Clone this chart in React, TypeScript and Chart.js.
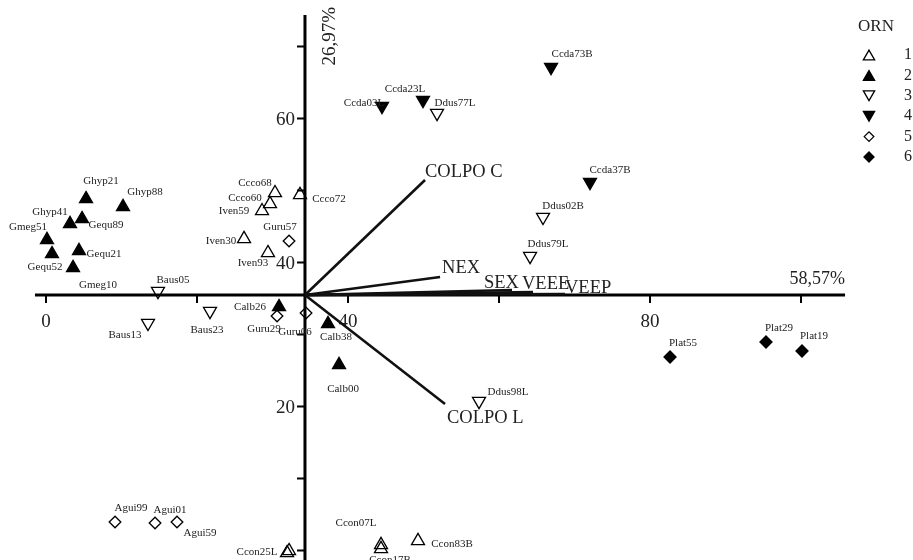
import React, { useEffect, useRef } from 'react';
import { Chart, registerables } from 'chart.js';
import { drawPoint } from 'chart.js/helpers';

Chart.register(...registerables);

// ---- Sample scores by ORN group ----
const ORN1_NAMES = ['Ccco68', 'Ccco72', 'Ccco60', 'Iven59', 'Iven30', 'Iven93', 'Ccon25L', '', 'Ccon07L', 'Ccon17B', 'Ccon83B'];
const ORN1_X = [30.33, 33.64, 29.67, 28.61, 26.23, 29.4, 31.92, 32.19, 44.37, 44.37, 49.27];
const ORN1_Y = [49.66, 49.39, 48.14, 47.16, 43.28, 41.33, -0.34, -0.06, 0.78, 0.22, 1.33];

const ORN2_NAMES = ['Ghyp21', 'Ghyp88', 'Ghyp41', 'Gequ89', 'Gmeg51', 'Gmeg10', 'Gequ21', 'Gequ52', 'Calb26', 'Calb38', 'Calb00'];
const ORN2_X = [5.3, 10.2, 3.18, 4.77, 0.13, 0.79, 4.37, 3.58, 30.86, 37.35, 38.81];
const ORN2_Y = [48.83, 47.72, 45.36, 46.05, 43.14, 41.19, 41.61, 39.25, 33.83, 31.47, 25.78];

const ORN3_NAMES = ['Ddus77L', 'Ddus02B', 'Ddus79L', 'Baus05', 'Baus13', 'Baus23', 'Ddus98L'];
const ORN3_X = [51.79, 65.83, 64.11, 14.83, 13.51, 21.72, 57.35];
const ORN3_Y = [60.75, 46.31, 40.89, 36.03, 31.59, 33.25, 20.75];

const ORN4_NAMES = ['Ccda73B', 'Ccda03L', 'Ccda23L', 'Ccda37B'];
const ORN4_X = [66.89, 44.5, 49.93, 72.05];
const ORN4_Y = [67.14, 61.72, 62.56, 51.17];

const ORN5_NAMES = ['Guru57', 'Guru29', 'Guru06', 'Agui99', 'Agui01', 'Agui59'];
const ORN5_X = [32.19, 30.6, 34.44, 9.14, 14.44, 17.35];
const ORN5_Y = [42.99, 32.57, 32.99, 3.96, 3.82, 3.96];

const ORN6_NAMES = ['Plat55', 'Plat29', 'Plat19'];
const ORN6_X = [82.65, 95.36, 100.13];
const ORN6_Y = [26.88, 28.96, 27.71];

const ORN_LEGEND = ['1', '2', '3', '4', '5', '6'];

// ---- Environmental vectors (from axis origin) ----
const ORIGIN_X = 34.3;
const ORIGIN_Y = 35.49;
const VECTOR_NAMES = ['COLPO C', 'NEX', 'SEX', 'VEEE', 'VEEP', 'COLPO L'];
const VECTOR_X = [50.2, 52.19, 61.72, 64.5, 68.74, 52.85];
const VECTOR_Y = [51.46, 37.99, 36.18, 35.9, 35.63, 20.35];

// ---- Axes ----
const X_MIN = -6.093, X_MAX = 114.83;
const Y_MIN = -1.32, Y_MAX = 76.46;
const X_AXIS_FROM = -1.46, X_AXIS_TO = 105.83;
const Y_AXIS_FROM = -1.32, Y_AXIS_TO = 74.38;
const X_TICKS = [0, 20, 40, 60, 80, 100];
const X_TICK_LABELS = ['0', '', '40', '', '80', ''];
const Y_TICKS = [0, 10, 20, 30, 40, 50, 60, 70];
const Y_TICK_LABELS = ['', '', '20', '', '40', '', '60', ''];
const X_TITLE = '58,57%';
const Y_TITLE = '26,97%';
const LEGEND_TITLE = 'ORN';

// ---- layout of text (pixels) ----
const LABEL_OFFSETS: Record<string, [number, number]> = {
  Ccco68: [-20, -8], Ccco72: [29, 6], Ccco60: [-25, -4], Iven59: [-28, 2], Iven30: [-23, 4], Iven93: [-15, 12],
  Ccon25L: [-30, 1], Ccon07L: [-25, -20], Ccon17B: [9, 13], Ccon83B: [34, 5],
  Ghyp21: [15, -16], Ghyp88: [22, -13], Ghyp41: [-20, -10], Gequ89: [24, 8], Gmeg51: [-19, -11], Gmeg10: [46, 33],
  Gequ21: [25, 5], Gequ52: [-28, 1], Calb26: [-29, 2], Calb38: [8, 15], Calb00: [4, 26],
  Ddus77L: [18, -12], Ddus02B: [20, -13], Ddus79L: [18, -14], Baus05: [15, -13], Baus13: [-23, 10], Baus23: [-3, 17], Ddus98L: [29, -11],
  Ccda73B: [21, -15], Ccda03L: [-18, -5], Ccda23L: [-18, -13], Ccda37B: [20, -14],
  Guru57: [-9, -14], Guru29: [-13, 13], Guru06: [-11, 19], Agui99: [16, -14], Agui01: [15, -13], Agui59: [23, 11],
  Plat55: [13, -14], Plat29: [13, -14], Plat19: [12, -15],
};
const VECTOR_LABEL_OFFSETS: [number, number][] = [[0, -3], [2, -4], [-28, -2], [-11, -3], [0, -1], [2, 19]];

const SERIF = '"Liberation Serif", "Times New Roman", serif';

// shift = visual centre of the marker relative to its anchor (px)
const STYLES = [
  { pointStyle: 'triangle', rotation: 0, fill: false, radius: 7.5, shift: -1.9 },
  { pointStyle: 'triangle', rotation: 0, fill: true, radius: 7.5, shift: -1.9 },
  { pointStyle: 'triangle', rotation: 180, fill: false, radius: 7.5, shift: 1.9 },
  { pointStyle: 'triangle', rotation: 180, fill: true, radius: 7.5, shift: 1.9 },
  { pointStyle: 'rectRot', rotation: 0, fill: false, radius: 5.8, shift: 0 },
  { pointStyle: 'rectRot', rotation: 0, fill: true, radius: 6, shift: 0 },
];

const GROUPS = [
  { names: ORN1_NAMES, xs: ORN1_X, ys: ORN1_Y },
  { names: ORN2_NAMES, xs: ORN2_X, ys: ORN2_Y },
  { names: ORN3_NAMES, xs: ORN3_X, ys: ORN3_Y },
  { names: ORN4_NAMES, xs: ORN4_X, ys: ORN4_Y },
  { names: ORN5_NAMES, xs: ORN5_X, ys: ORN5_Y },
  { names: ORN6_NAMES, xs: ORN6_X, ys: ORN6_Y },
];

const overlay = {
  id: 'overlay',
  beforeDatasetsDraw(chart: any) {
    const ctx = chart.ctx as CanvasRenderingContext2D;
    const xs = chart.scales.x;
    const ys = chart.scales.y;
    const ax = xs.getPixelForValue(ORIGIN_X);
    const ay = ys.getPixelForValue(ORIGIN_Y);
    ctx.save();
    ctx.strokeStyle = '#000';
    ctx.lineWidth = 3;
    ctx.beginPath();
    ctx.moveTo(xs.getPixelForValue(X_AXIS_FROM), ay);
    ctx.lineTo(xs.getPixelForValue(X_AXIS_TO), ay);
    ctx.moveTo(ax, ys.getPixelForValue(Y_AXIS_TO));
    ctx.lineTo(ax, ys.getPixelForValue(Y_AXIS_FROM));
    ctx.stroke();
    ctx.lineWidth = 2;
    ctx.beginPath();
    X_TICKS.forEach((t) => {
      const px = xs.getPixelForValue(t);
      ctx.moveTo(px, ay);
      ctx.lineTo(px, ay + 8);
    });
    Y_TICKS.forEach((t) => {
      const py = ys.getPixelForValue(t);
      ctx.moveTo(ax, py);
      ctx.lineTo(ax - 8, py);
    });
    ctx.stroke();
    ctx.fillStyle = '#222';
    ctx.font = `19px ${SERIF}`;
    ctx.textAlign = 'center';
    ctx.textBaseline = 'middle';
    X_TICKS.forEach((t, i) => {
      if (X_TICK_LABELS[i]) ctx.fillText(X_TICK_LABELS[i], xs.getPixelForValue(t), ay + 27);
    });
    ctx.textAlign = 'right';
    Y_TICKS.forEach((t, i) => {
      if (Y_TICK_LABELS[i]) ctx.fillText(Y_TICK_LABELS[i], ax - 10, ys.getPixelForValue(t) + 2);
    });
    // axis titles
    ctx.font = `18px ${SERIF}`;
    ctx.textAlign = 'right';
    ctx.textBaseline = 'alphabetic';
    ctx.fillText(X_TITLE, xs.getPixelForValue(X_AXIS_TO), ay - 11);
    ctx.save();
    ctx.font = `19px ${SERIF}`;
    ctx.translate(ax + 30, ys.getPixelForValue(Y_AXIS_TO) - 8);
    ctx.rotate(-Math.PI / 2);
    ctx.textAlign = 'right';
    ctx.fillText(Y_TITLE, 0, 0);
    ctx.restore();
    ctx.restore();
  },
  afterDatasetsDraw(chart: any) {
    const ctx = chart.ctx as CanvasRenderingContext2D;
    ctx.save();
    // sample labels
    ctx.fillStyle = '#222';
    ctx.font = `11px ${SERIF}`;
    ctx.textAlign = 'center';
    ctx.textBaseline = 'middle';
    GROUPS.forEach((g, gi) => {
      const meta = chart.getDatasetMeta(gi);
      meta.data.forEach((el: any, i: number) => {
        const name = g.names[i];
        if (!name) return;
        const off = LABEL_OFFSETS[name] || [0, -12];
        ctx.fillText(name, el.x + off[0], el.y + STYLES[gi].shift + off[1]);
      });
    });
    // vector labels
    ctx.font = `18.5px ${SERIF}`;
    ctx.textAlign = 'left';
    ctx.textBaseline = 'alphabetic';
    VECTOR_NAMES.forEach((n, i) => {
      const meta = chart.getDatasetMeta(GROUPS.length + i);
      const end = meta.data[1];
      const off = VECTOR_LABEL_OFFSETS[i];
      ctx.fillText(n, end.x + off[0], end.y + off[1]);
    });
    // legend
    ctx.font = `17px ${SERIF}`;
    ctx.textAlign = 'center';
    ctx.textBaseline = 'middle';
    ctx.fillText(LEGEND_TITLE, 876, 27);
    ctx.font = `16px ${SERIF}`;
    ORN_LEGEND.forEach((lab, i) => {
      const st = STYLES[i];
      const cy = 55 + i * 20.4;
      ctx.fillStyle = st.fill ? '#000' : 'rgba(0,0,0,0)';
      ctx.strokeStyle = '#000';
      ctx.lineWidth = 1.3;
      drawPoint(ctx, { pointStyle: st.pointStyle as any, rotation: st.rotation, radius: st.radius - 1, borderWidth: 1.3 }, 869, cy - st.shift * 0.85);
      ctx.fillStyle = '#222';
      ctx.fillText(lab, 908, cy);
    });
    ctx.restore();
  },
};

export default function App() {
  const ref = useRef<HTMLCanvasElement>(null);
  useEffect(() => {
    if (!ref.current) return;
    const datasets: any[] = GROUPS.map((g, gi) => {
      const st = STYLES[gi];
      return {
        label: ORN_LEGEND[gi],
        data: g.xs.map((x, i) => ({ x, y: g.ys[i] })),
        pointStyle: st.pointStyle,
        rotation: st.rotation,
        pointRadius: st.radius,
        pointHoverRadius: st.radius,
        backgroundColor: st.fill ? '#000' : 'rgba(0,0,0,0)',
        borderColor: '#000',
        borderWidth: 1.3,
        showLine: false,
        order: 1,
      };
    });
    VECTOR_NAMES.forEach((n, i) => {
      datasets.push({
        label: n,
        data: [
          { x: ORIGIN_X, y: ORIGIN_Y },
          { x: VECTOR_X[i], y: VECTOR_Y[i] },
        ],
        showLine: true,
        borderColor: '#111',
        borderWidth: 2.6,
        pointRadius: 0,
        pointHoverRadius: 0,
        fill: false,
        order: 2,
      });
    });
    const chart = new Chart(ref.current, {
      type: 'scatter',
      data: { datasets },
      options: {
        animation: false,
        responsive: false,
        devicePixelRatio: 1,
        layout: { padding: 0, autoPadding: false },
        plugins: { legend: { display: false }, tooltip: { enabled: false }, title: { display: false } },
        scales: {
          x: { type: 'linear', min: X_MIN, max: X_MAX, display: false },
          y: { type: 'linear', min: Y_MIN, max: Y_MAX, display: false },
        },
        events: [],
      },
      plugins: [overlay],
    });
    return () => chart.destroy();
  }, []);
  return (
    <div style={{ position: 'fixed', left: 0, top: 0, width: 913, height: 560, background: '#fff' }}>
      <canvas ref={ref} width={913} height={560} style={{ display: 'block', width: 913, height: 560 }} />
    </div>
  );
}
